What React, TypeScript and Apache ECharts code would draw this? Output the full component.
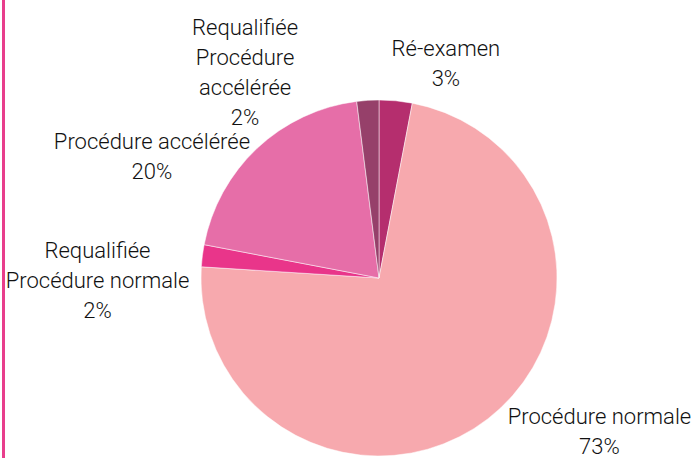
import React, { useEffect, useRef } from "react";
import * as echarts from "echarts";

const categories = [
  "Ré-examen",
  "Procédure normale",
  "Requalifiée\nProcédure normale",
  "Procédure accélérée",
  "Requalifiée\nProcédure\naccélérée",
];
const values = [3, 73, 2, 20, 2];
const colors = ["#b52e6e", "#f7a9ae", "#e9358a", "#e66ea8", "#96406a"];
// label nudges from the label-line end
const labelDx = [37, 92, -81, -85, -110];
const labelDy = [-25, 3, 26, 17, -16];

export default function App() {
  const ref = useRef<HTMLDivElement>(null);
  useEffect(() => {
    if (!ref.current) return;
    const chart = echarts.init(ref.current, null, { renderer: "svg" });
    chart.setOption({
      animation: false,
      backgroundColor: "#ffffff",
      graphic: [
        {
          type: "rect",
          shape: { x: 2, y: 0, width: 3, height: 458 },
          style: { fill: "#e83e8c" },
        },
      ],
      series: [
        {
          type: "pie",
          center: [379, 278],
          radius: 178,
          startAngle: 90,
          clockwise: true,
          avoidLabelOverlap: false,
          itemStyle: { borderColor: "#ffffff", borderWidth: 0.5 },
          label: {
            show: true,
            position: "outside",
            formatter: "{b}\n{d}%",
            color: "#111111",
            fontSize: 22,
            lineHeight: 30,
            fontWeight: 300,
            fontFamily: "Roboto, 'Noto Sans', sans-serif",
            overflow: "none",
          },
          labelLine: { show: false, length: 12, length2: 12 },
          labelLayout: (p: any) => {
            const r = p.labelRect;
            const pts = p.labelLinePoints;
            let ax: number, ay: number;
            if (pts && pts.length) {
              ax = pts[pts.length - 1][0];
              ay = pts[pts.length - 1][1];
            } else {
              ax = p.align === "left" ? r.x : r.x + r.width;
              ay = r.y + r.height / 2;
            }
            const i = p.dataIndex;
            return {
              x: ax + labelDx[i],
              y: ay + labelDy[i],
              align: "center",
              verticalAlign: "middle",
            };
          },
          data: categories.map((name, i) => ({
            name,
            value: values[i],
            itemStyle: { color: colors[i] },
          })),
        },
      ],
    });
    return () => chart.dispose();
  }, []);
  return (
    <div
      ref={ref}
      style={{ position: "absolute", left: 0, top: 0, width: 692, height: 458 }}
    />
  );
}
